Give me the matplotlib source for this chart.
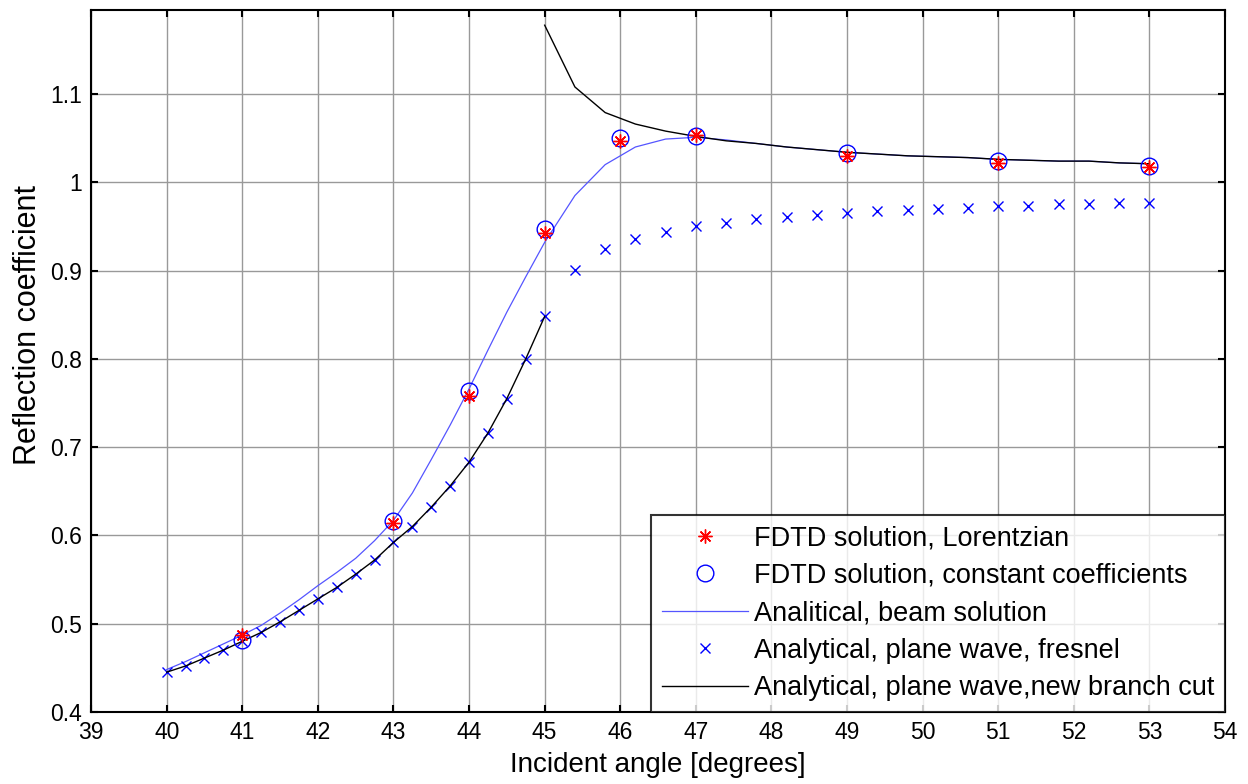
import matplotlib
matplotlib.use("Agg")
import matplotlib.pyplot as plt
import numpy as np

plt.rcParams['font.family'] = ['Liberation Sans', 'DejaVu Sans']

# FDTD data points
fdtd_angles = [41, 43, 44, 45, 46, 47, 49, 51, 53]
fdtd_lorentz = [0.487, 0.614, 0.758, 0.942, 1.047, 1.054, 1.030, 1.022, 1.017]
fdtd_const = [0.481, 0.616, 0.763, 0.947, 1.050, 1.053, 1.033, 1.024, 1.019]

# Analytical beam solution
beam_angles = [40, 40.25, 40.5, 40.75, 41, 41.25, 41.5, 41.75, 42, 42.25, 42.5, 42.75,
               43, 43.25, 43.5, 43.75, 44, 44.25, 44.5, 44.75, 45, 45.4, 45.8, 46.2,
               46.6, 47, 47.4, 47.8, 48.2, 48.6, 49, 49.4, 49.8, 50.2, 50.6, 51, 51.4,
               51.8, 52.2, 52.6, 53]
beam_vals = [0.448, 0.457, 0.467, 0.477, 0.487, 0.498, 0.512, 0.527, 0.543, 0.558, 0.574, 0.594,
             0.617, 0.648, 0.686, 0.725, 0.766, 0.810, 0.853, 0.893, 0.932, 0.985, 1.020, 1.040,
             1.049, 1.051, 1.048, 1.044, 1.040, 1.037, 1.034, 1.032, 1.030, 1.029, 1.028, 1.026, 1.025,
             1.024, 1.024, 1.022, 1.021]

# Plane wave fresnel
fres_angles = [40, 40.25, 40.5, 40.75, 41, 41.25, 41.5, 41.75, 42, 42.25, 42.5, 42.75,
               43, 43.25, 43.5, 43.75, 44, 44.25, 44.5, 44.75, 45, 45.4, 45.8, 46.2,
               46.6, 47, 47.4, 47.8, 48.2, 48.6, 49, 49.4, 49.8, 50.2, 50.6, 51, 51.4,
               51.8, 52.2, 52.6, 53]
fres_vals = [0.445, 0.452, 0.461, 0.470, 0.480, 0.490, 0.502, 0.515, 0.528, 0.541, 0.556, 0.572,
             0.592, 0.610, 0.632, 0.656, 0.683, 0.716, 0.755, 0.800, 0.848, 0.901, 0.924, 0.936,
             0.944, 0.950, 0.954, 0.958, 0.961, 0.963, 0.965, 0.967, 0.969, 0.970, 0.971, 0.973, 0.973,
             0.975, 0.975, 0.976, 0.977]

# Plane wave, new branch cut (two branches)
cut_low_angles = [40, 40.25, 40.5, 40.75, 41, 41.25, 41.5, 41.75, 42, 42.25, 42.5, 42.75,
                  43, 43.25, 43.5, 43.75, 44, 44.25, 44.5, 44.75, 45]
cut_low_vals = [0.445, 0.452, 0.461, 0.470, 0.480, 0.490, 0.502, 0.515, 0.528, 0.541, 0.556, 0.572,
                0.592, 0.610, 0.632, 0.656, 0.683, 0.716, 0.755, 0.800, 0.848]
cut_high_angles = [45, 45.4, 45.8, 46.2, 46.6, 47, 47.4, 47.8, 48.2, 48.6, 49, 49.4, 49.8,
                   50.2, 50.6, 51, 51.4, 51.8, 52.2, 52.6, 53]
cut_high_vals = [1.178, 1.108, 1.079, 1.066, 1.058, 1.052, 1.047, 1.044, 1.040, 1.037, 1.034, 1.032,
                 1.030, 1.029, 1.028, 1.026, 1.025, 1.024, 1.024, 1.022, 1.021]

xticks = list(range(39, 55))
yticks = [0.4, 0.5, 0.6, 0.7, 0.8, 0.9, 1.0, 1.1]
ytick_labels = ['0.4', '0.5', '0.6', '0.7', '0.8', '0.9', '1', '1.1']

fig = plt.figure(figsize=(12.48, 7.84), dpi=100)
ax = fig.add_axes([0.073, 0.092, 0.9086, 0.895])

ast = (8, 2, 0)
ax.plot(fdtd_angles, fdtd_lorentz, linestyle='none', marker=ast, color='red',
        markersize=10, markeredgewidth=1.0, label='FDTD solution, Lorentzian', zorder=5)
ax.plot(fdtd_angles, fdtd_const, linestyle='none', marker='o', markerfacecolor='none',
        markeredgecolor='blue', markersize=12, markeredgewidth=1.0,
        label='FDTD solution, constant coefficients', zorder=4)
ax.plot(beam_angles, beam_vals, color='#5555ff', linewidth=0.9,
        label='Analitical, beam solution', zorder=3)
ax.plot(fres_angles, fres_vals, linestyle='none', marker='x', color='blue',
        markersize=6.5, markeredgewidth=1.0, label='Analytical, plane wave, fresnel', zorder=3)
ax.plot(cut_low_angles, cut_low_vals, color='black', linewidth=1.0,
        label='Analytical, plane wave,new branch cut', zorder=3)
ax.plot(cut_high_angles, cut_high_vals, color='black', linewidth=1.0, zorder=3)

ax.set_xlim(39, 54)
ax.set_ylim(0.4, 1.195)
ax.set_xticks(xticks)
ax.set_yticks(yticks)
ax.set_yticklabels(ytick_labels)
ax.tick_params(direction='in', top=True, right=True, length=5, width=1.5,
               labelsize=16.5, pad=6.5)
ax.grid(True, color='#999999', linewidth=1.0)
ax.set_axisbelow(True)
for s in ax.spines.values():
    s.set_linewidth(1.5)

ax.set_xlabel('Incident angle [degrees]', fontsize=20, labelpad=6)
ax.set_ylabel('Reflection coefficient', fontsize=22)
ax.yaxis.set_label_coords(-0.042, 0.551)

leg = ax.legend(loc='lower right', fontsize=19.5, frameon=True, fancybox=False,
                borderaxespad=0.0, handlelength=3.2, labelspacing=0.42,
                handletextpad=0.2, borderpad=0.4)
leg.get_frame().set_edgecolor('black')
leg.get_frame().set_linewidth(1.5)

fig.savefig('out.png', dpi=100)
